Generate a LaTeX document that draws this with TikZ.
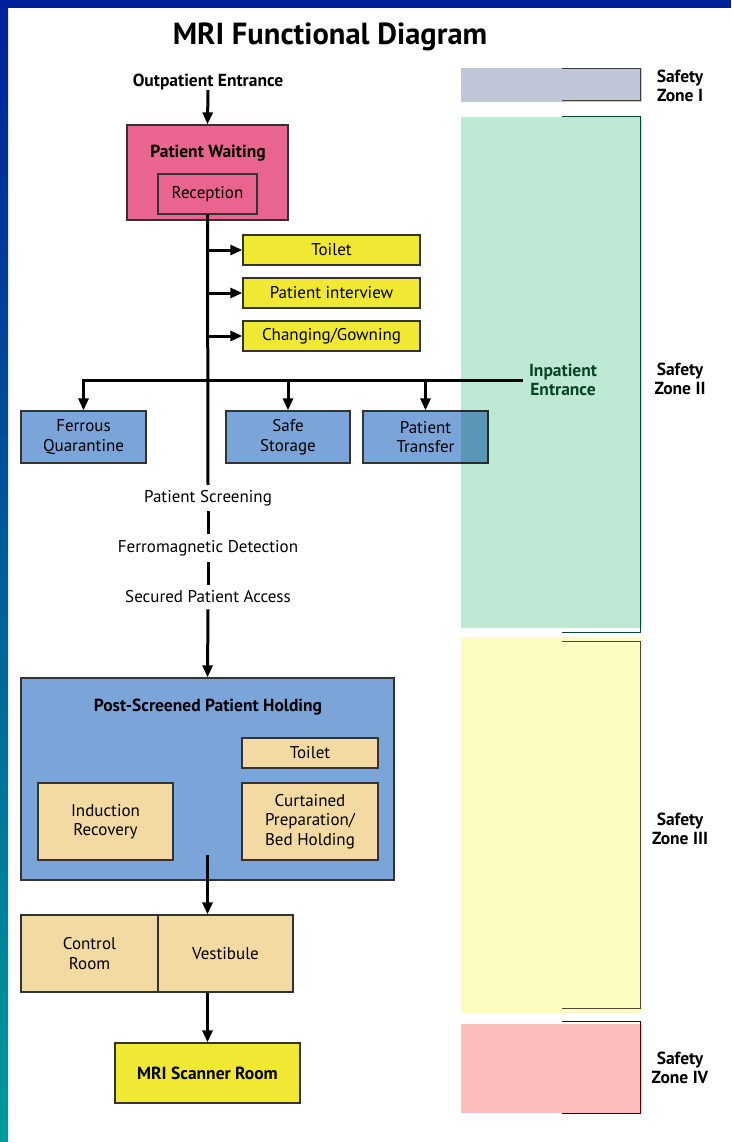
\documentclass[tikz,border=0pt]{standalone}
\usepackage{fontspec}
\setmainfont{PT Sans}
\usetikzlibrary{arrows.meta,positioning}

\definecolor{bandtop}{HTML}{00209A}
\definecolor{bandbot}{HTML}{009A9A}
\definecolor{waitpink}{HTML}{E9658F}
\definecolor{boxyellow}{HTML}{F0E832}
\definecolor{roomblue}{HTML}{7BA5D9}
\definecolor{roomtan}{HTML}{F3DAA3}
\definecolor{zoneA}{HTML}{C0C6D8}
\definecolor{zoneB}{HTML}{BDE9D4}
\definecolor{zoneC}{HTML}{FDFCC1}
\definecolor{zoneD}{HTML}{FBBDBD}
\definecolor{inpatgreen}{HTML}{0B4A2C}

\tikzset{
  room/.style={draw=black!80, line width=1.3pt, fill=#1, align=center,
    inner sep=0pt, font=\fontsize{17}{19.5}\selectfont},
  lbl/.style={align=center, inner sep=0pt, font=\fontsize{17}{19.5}\selectfont},
  boldlbl/.style={align=center, inner sep=0pt, font=\bfseries\fontsize{17.5}{19.5}\selectfont},
  trunk/.style={line width=3pt},
  flow/.style={line width=3pt, -{Triangle[length=12pt,width=10pt]}},
  zone/.style={fill=#1, draw=none, inner sep=0pt, minimum width=181pt},
  bracket/.style={line width=1.3pt, draw=#1},
}

\begin{document}
\begin{tikzpicture}[x=1pt,y=-1pt]
  \useasboundingbox (0,0) rectangle (731,1142);
  \fill[white] (0,0) rectangle (731,1142);
  % frame
  \fill[bandtop] (0,0) rectangle (731,8);
  \shade[top color=bandtop, bottom color=bandbot] (0,0) rectangle (8,1142);

  \node[font=\bfseries\fontsize{30.5}{33}\selectfont, inner sep=0pt] (title) at (330,37) {MRI Functional Diagram};

  % entrance and waiting
  \node[boldlbl] (outpat) at (208,82) {Outpatient Entrance};
  \node[room=waitpink, minimum width=161pt, minimum height=95pt] (wait) at (207.5,172.5) {};
  \node[boldlbl] (waittitle) at (208,153) {Patient Waiting};
  \node[room=waitpink, minimum width=99pt, minimum height=40pt] (recep) at (207.5,194) {Reception};
  \draw[flow] (outpat.south) -- (wait.north);

  % side rooms
  \node[room=boxyellow, minimum width=177pt, minimum height=30pt] (toilet) at (331.5,250) {Toilet};
  \node[room=boxyellow, minimum width=177pt, minimum height=30pt] (interview) at (331.5,293) {Patient interview};
  \node[room=boxyellow, minimum width=177pt, minimum height=30pt] (gown) at (331.5,336) {Changing/Gowning};

  \node[room=roomblue, minimum width=125pt, minimum height=52pt] (ferrous) at (83.5,437) {Ferrous\\Quarantine};
  \node[room=roomblue, minimum width=124pt, minimum height=52pt] (safe) at (288,437) {Safe\\Storage};
  \node[room=roomblue, minimum width=125pt, minimum height=52pt] (transfer) at (425.5,437) {Patient\\Transfer};
  \node[boldlbl, text=inpatgreen] (inpat) at (563,380) {Inpatient\\Entrance};

  % screening
  \node[lbl, inner ysep=5pt] (screen) at (208,498) {Patient Screening};
  \node[lbl, inner ysep=6pt] (ferro) at (208,548) {Ferromagnetic Detection};
  \node[lbl, inner ysep=6pt] (access) at (208,597) {Secured Patient Access};

  % holding
  \node[room=roomblue, minimum width=373pt, minimum height=202pt] (hold) at (207.5,779) {};
  \node[boldlbl] (holdtitle) at (208,707) {Post-Screened Patient Holding};
  \node[room=roomtan, minimum width=136pt, minimum height=30pt] (toilettwo) at (310,753) {Toilet};
  \node[room=roomtan, minimum width=135pt, minimum height=77pt] (induct) at (105.5,821.5) {Induction\\Recovery};
  \node[room=roomtan, minimum width=136pt, minimum height=77pt] (curtain) at (310,821.5) {Curtained\\Preparation/\\Bed Holding};

  \node[room=roomtan, minimum width=137pt, minimum height=77pt] (control) at (89.5,953.5) {Control\\Room};
  \node[room=roomtan, minimum width=135pt, minimum height=77pt] (vest) at (225.5,953.5) {Vestibule};
  \node[room=boxyellow, minimum width=185pt, minimum height=60pt, font=\bfseries\fontsize{17.5}{19.5}\selectfont] (scanner) at (207.5,1073) {MRI Scanner Room};

  % connectors
  \draw[trunk] (recep.south) -- (screen.north);
  \draw[flow] (recep.south |- toilet.west) -- (toilet.west);
  \draw[flow] (recep.south |- interview.west) -- (interview.west);
  \draw[flow] (recep.south |- gown.west) -- (gown.west);
  \draw[flow] ([xshift=-6pt]inpat.west) -| (ferrous.north);
  \draw[flow] (safe.north |- inpat.west) -- (safe.north);
  \draw[flow] (transfer.north |- inpat.west) -- (transfer.north);
  \draw[trunk] (screen.south) -- (ferro.north);
  \draw[trunk] (ferro.south) -- (access.north);
  \draw[flow] (access.south) -- (hold.north);
  \draw[flow] ([yshift=26pt]hold.south) -- (hold.south |- vest.north);
  \draw[flow] (hold.south |- vest.south) -- (scanner.north);

  % safety zones
  \begin{scope}[blend mode=multiply]
    \node[zone=zoneA, minimum height=34pt] (zoneone) at (551.5,85) {};
    \node[zone=zoneB, minimum height=511pt] (zonetwo) at (551.5,372.5) {};
    \node[zone=zoneC, minimum height=376pt] (zonethree) at (551.5,825) {};
    \node[zone=zoneD, minimum height=89pt] (zonefour) at (551.5,1068.5) {};
  \end{scope}
  \draw[bracket=black!75] ([xshift=10.5pt,yshift=-1pt]zoneone.north) -- ([xshift=-2pt,yshift=-1pt]zoneone.north east) |- ([xshift=10.5pt,yshift=2pt]zoneone.south);
  \draw[bracket=inpatgreen] ([xshift=10.5pt]zonetwo.north) -- ([xshift=-2pt]zonetwo.north east) |- ([xshift=10.5pt,yshift=-4pt]zonetwo.south);
  \draw[bracket=black!60!olive] ([xshift=10.5pt,yshift=-5pt]zonethree.north) -- ([xshift=-2pt,yshift=-5pt]zonethree.north east) |- ([xshift=10.5pt,yshift=5pt]zonethree.south);
  \draw[bracket=black!70!red] ([xshift=10.5pt,yshift=2pt]zonefour.north) -- ([xshift=-2pt,yshift=2pt]zonefour.north east) |- ([xshift=10.5pt]zonefour.south);

  \node[boldlbl] (labone) at (680,86) {Safety\\Zone I};
  \node[boldlbl] (labtwo) at (680,379) {Safety\\Zone II};
  \node[boldlbl] (labthree) at (680,829) {Safety\\Zone III};
  \node[boldlbl] (labfour) at (680,1068) {Safety\\Zone IV};
\end{tikzpicture}
\end{document}
